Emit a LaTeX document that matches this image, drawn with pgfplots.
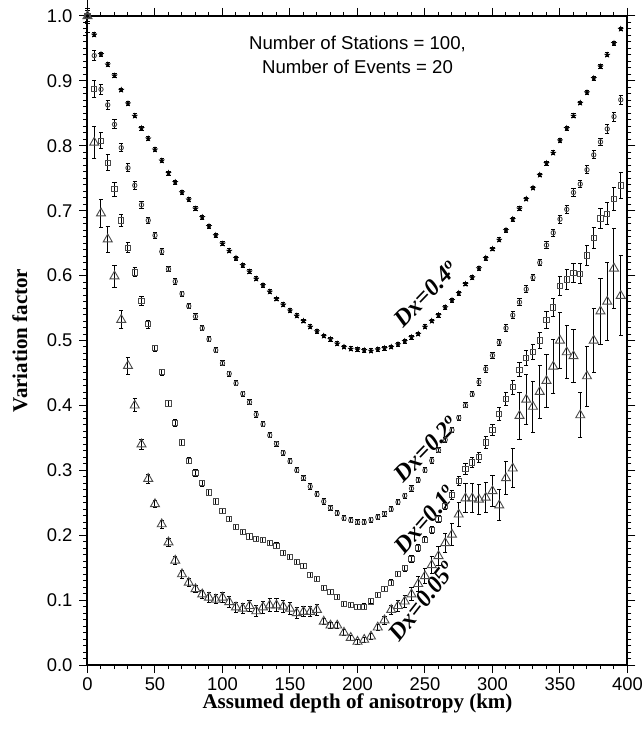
\documentclass[border=0pt]{standalone}
\usepackage{fontspec}
\setmainfont{Liberation Serif}
\setsansfont{Liberation Sans}
\usepackage{pgfplots}
\usepackage{pgfplotstable}
\pgfplotsset{compat=1.18}
\usetikzlibrary{plotmarks}

\pgfdeclareplotmark{fstar}{%
  \pgfpathmoveto{\pgfpointpolar{90}{\pgfplotmarksize}}%
  \pgfpathlineto{\pgfpointpolar{126}{0.42\pgfplotmarksize}}%
  \pgfpathlineto{\pgfpointpolar{162}{\pgfplotmarksize}}%
  \pgfpathlineto{\pgfpointpolar{198}{0.42\pgfplotmarksize}}%
  \pgfpathlineto{\pgfpointpolar{234}{\pgfplotmarksize}}%
  \pgfpathlineto{\pgfpointpolar{270}{0.42\pgfplotmarksize}}%
  \pgfpathlineto{\pgfpointpolar{306}{\pgfplotmarksize}}%
  \pgfpathlineto{\pgfpointpolar{342}{0.42\pgfplotmarksize}}%
  \pgfpathlineto{\pgfpointpolar{18}{\pgfplotmarksize}}%
  \pgfpathlineto{\pgfpointpolar{54}{0.42\pgfplotmarksize}}%
  \pgfpathclose
  \pgfusepathqfillstroke
}

% x, star (Dx=0.4), circle (Dx=0.2), square (Dx=0.1), triangle (Dx=0.05), with errors
\pgfplotstableread{
x   s     se     c     ce     q     qe     t     te
0   1.000 0.003  1.000 0.008  1.000 0.012  1.000 0.025
5   0.971 0.003  0.939 0.008  0.887 0.013  0.805 0.025
10  0.941 0.003  0.887 0.008  0.808 0.012  0.696 0.022
15  0.925 0.003  0.863 0.007  0.774 0.012  0.656 0.020
20  0.908 0.003  0.833 0.007  0.733 0.011  0.599 0.017
25  0.886 0.003  0.797 0.006  0.685 0.009  0.532 0.014
30  0.865 0.003  0.766 0.006  0.643 0.008  0.461 0.013
35  0.846 0.003  0.739 0.006  0.605 0.007  0.400 0.010
40  0.827 0.003  0.709 0.005  0.561 0.007  0.340 0.008
45  0.811 0.003  0.685 0.005  0.525 0.006  0.287 0.007
50  0.794 0.003  0.662 0.005  0.488 0.005  0.248 0.006
55  0.777 0.003  0.637 0.005  0.451 0.005  0.217 0.006
60  0.758 0.003  0.610 0.004  0.403 0.005  0.189 0.006
65  0.744 0.003  0.591 0.004  0.373 0.005  0.161 0.006
70  0.728 0.003  0.572 0.004  0.343 0.005  0.140 0.006
75  0.717 0.003  0.553 0.004  0.315 0.005  0.127 0.006
80  0.703 0.003  0.537 0.004  0.296 0.005  0.117 0.006
85  0.690 0.003  0.519 0.004  0.280 0.005  0.109 0.006
90  0.676 0.003  0.502 0.004  0.266 0.005  0.104 0.007
95  0.662 0.003  0.485 0.004  0.252 0.005  0.101 0.007
100 0.649 0.003  0.465 0.004  0.237 0.004  0.104 0.008
105 0.638 0.003  0.449 0.004  0.225 0.004  0.097 0.008
110 0.627 0.003  0.434 0.004  0.213 0.004  0.089 0.008
115 0.616 0.003  0.418 0.004  0.205 0.004  0.087 0.008
120 0.606 0.003  0.405 0.004  0.198 0.004  0.091 0.009
125 0.595 0.003  0.386 0.004  0.194 0.004  0.083 0.008
130 0.585 0.003  0.371 0.004  0.193 0.004  0.089 0.009
135 0.575 0.003  0.354 0.004  0.188 0.004  0.092 0.010
140 0.564 0.003  0.341 0.004  0.184 0.004  0.092 0.010
145 0.555 0.003  0.327 0.004  0.173 0.004  0.090 0.009
150 0.546 0.003  0.314 0.004  0.167 0.004  0.087 0.009
155 0.538 0.003  0.300 0.004  0.159 0.004  0.080 0.008
160 0.530 0.003  0.288 0.004  0.153 0.004  0.082 0.008
165 0.521 0.003  0.275 0.004  0.139 0.004  0.082 0.008
170 0.514 0.003  0.263 0.004  0.132 0.004  0.085 0.008
175 0.507 0.003  0.252 0.004  0.119 0.004  0.067 0.005
180 0.502 0.003  0.242 0.004  0.112 0.004  0.061 0.005
185 0.495 0.003  0.234 0.004  0.105 0.004  0.061 0.005
190 0.490 0.003  0.226 0.004  0.094 0.004  0.050 0.004
195 0.487 0.003  0.223 0.004  0.092 0.004  0.042 0.004
200 0.486 0.003  0.220 0.004  0.089 0.004  0.036 0.004
205 0.485 0.003  0.220 0.004  0.090 0.004  0.039 0.004
210 0.484 0.003  0.224 0.004  0.098 0.004  0.044 0.004
215 0.486 0.003  0.228 0.004  0.108 0.004  0.058 0.005
220 0.488 0.003  0.233 0.004  0.117 0.004  0.069 0.006
225 0.490 0.003  0.240 0.004  0.127 0.004  0.085 0.007
230 0.494 0.003  0.251 0.004  0.140 0.004  0.091 0.008
235 0.499 0.003  0.261 0.004  0.149 0.005  0.098 0.009
240 0.505 0.003  0.272 0.004  0.163 0.005  0.109 0.010
245 0.510 0.003  0.285 0.004  0.180 0.005  0.125 0.011
250 0.521 0.003  0.300 0.004  0.193 0.005  0.137 0.012
255 0.530 0.003  0.315 0.004  0.208 0.006  0.154 0.013
260 0.539 0.003  0.331 0.004  0.225 0.006  0.168 0.014
265 0.551 0.003  0.347 0.004  0.245 0.006  0.188 0.015
270 0.562 0.003  0.362 0.004  0.262 0.007  0.201 0.017
275 0.573 0.003  0.381 0.004  0.284 0.007  0.232 0.019
280 0.587 0.003  0.400 0.004  0.302 0.008  0.257 0.022
285 0.597 0.003  0.417 0.004  0.312 0.008  0.257 0.022
290 0.611 0.003  0.436 0.005  0.320 0.008  0.255 0.023
295 0.627 0.003  0.456 0.005  0.343 0.009  0.258 0.023
300 0.641 0.003  0.477 0.005  0.362 0.009  0.268 0.024
305 0.655 0.003  0.497 0.005  0.387 0.010  0.246 0.024
310 0.670 0.003  0.519 0.005  0.410 0.010  0.288 0.026
315 0.687 0.003  0.539 0.005  0.428 0.011  0.303 0.030
320 0.703 0.003  0.559 0.005  0.455 0.011  0.384 0.036
325 0.718 0.003  0.579 0.005  0.473 0.012  0.409 0.038
330 0.735 0.003  0.597 0.005  0.482 0.012  0.398 0.039
335 0.755 0.003  0.620 0.005  0.500 0.013  0.421 0.041
340 0.773 0.003  0.647 0.005  0.532 0.013  0.438 0.041
345 0.789 0.003  0.666 0.005  0.551 0.014  0.460 0.041
350 0.808 0.003  0.687 0.006  0.584 0.014  0.500 0.043
355 0.827 0.003  0.702 0.006  0.594 0.015  0.482 0.041
360 0.846 0.003  0.728 0.006  0.604 0.015  0.476 0.041
365 0.866 0.003  0.741 0.006  0.603 0.015  0.385 0.035
370 0.882 0.003  0.763 0.006  0.631 0.016  0.445 0.046
375 0.904 0.003  0.786 0.006  0.658 0.016  0.500 0.050
380 0.922 0.003  0.806 0.006  0.688 0.016  0.545 0.051
385 0.940 0.003  0.826 0.007  0.695 0.017  0.560 0.060
390 0.958 0.003  0.845 0.007  0.718 0.018  0.611 0.062
395 0.980 0.003  0.871 0.007  0.739 0.020  0.569 0.062
}\datatable

\begin{document}
\begin{tikzpicture}
\path[use as bounding box] (-43.75pt,-32pt) rectangle (278pt,332.5pt);
\begin{axis}[
  scale only axis,
  width=270pt, height=324.5pt,
  xmin=0, xmax=400, ymin=0, ymax=1,
  xtick={0,50,100,150,200,250,300,350,400},
  ytick={0,0.1,0.2,0.3,0.4,0.5,0.6,0.7,0.8,0.9,1.0},
  minor x tick num=4, minor y tick num=9,
  tick align=outside, tick pos=both,
  xticklabel pos=left, yticklabel pos=left,
  major tick length=4pt, minor tick length=2pt,
  axis line style={line width=1pt},
  every tick/.style={black, line width=0.5pt},
  /pgf/number format/assume math mode=true,
  tick label style={font=\sffamily\fontsize{9.2}{10}\selectfont},
  yticklabel style={/pgf/number format/.cd, fixed, fixed zerofill, precision=1},
  xticklabel style={yshift=1pt, /pgf/number format/.cd, fixed, precision=0},
  xlabel={Assumed depth of anisotropy (km)},
  ylabel={Variation factor},
  label style={font=\bfseries\fontsize{10.5}{12}\selectfont},
  xlabel style={at={(axis description cs:0.5,-0.059)}, anchor=center},
  ylabel style={at={(axis description cs:-0.125,0.5)}, anchor=center},
  only marks,
  error bars/y dir=both, error bars/y explicit,
  error bars/error bar style={black, line width=0.5pt},
  error bars/error mark options={rotate=90, mark size=1.1pt, black, line width=0.5pt},
  clip=false,
]
\addplot[mark=fstar, mark size=1.4pt, mark options={fill=black, draw=black, line width=0.2pt}]
  table[x=x, y=s, y error=se] {\datatable};
\addplot[mark=o, mark size=1.1pt, mark options={draw=black!70, line width=0.45pt}]
  table[x=x, y=c, y error=ce] {\datatable};
\addplot[mark=square, mark size=1.3pt, mark options={draw=black!70, line width=0.45pt}]
  table[x=x, y=q, y error=qe] {\datatable};
\addplot[mark=triangle, mark size=2.6pt, mark options={draw=black!70, line width=0.45pt}]
  table[x=x, y=t, y error=te] {\datatable};

\node[align=center, font=\sffamily\fontsize{9.3}{12}\selectfont] at (axis cs:200,0.94)
  {Number of Stations = 100,\\Number of Events = 20};
\node[rotate=46, font=\bfseries\itshape\fontsize{12}{14}\selectfont] at (axis cs:251,0.572) {Dx=0.4\textsuperscript{o}};
\node[rotate=46, font=\bfseries\itshape\fontsize{12}{14}\selectfont] at (axis cs:251,0.333) {Dx=0.2\textsuperscript{o}};
\node[rotate=49, font=\bfseries\itshape\fontsize{12}{14}\selectfont] at (axis cs:250,0.224) {Dx=0.1\textsuperscript{o}};
\node[rotate=52, font=\bfseries\itshape\fontsize{12}{14}\selectfont] at (axis cs:248,0.099) {Dx=0.05\textsuperscript{o}};
\end{axis}
\end{tikzpicture}
\end{document}
